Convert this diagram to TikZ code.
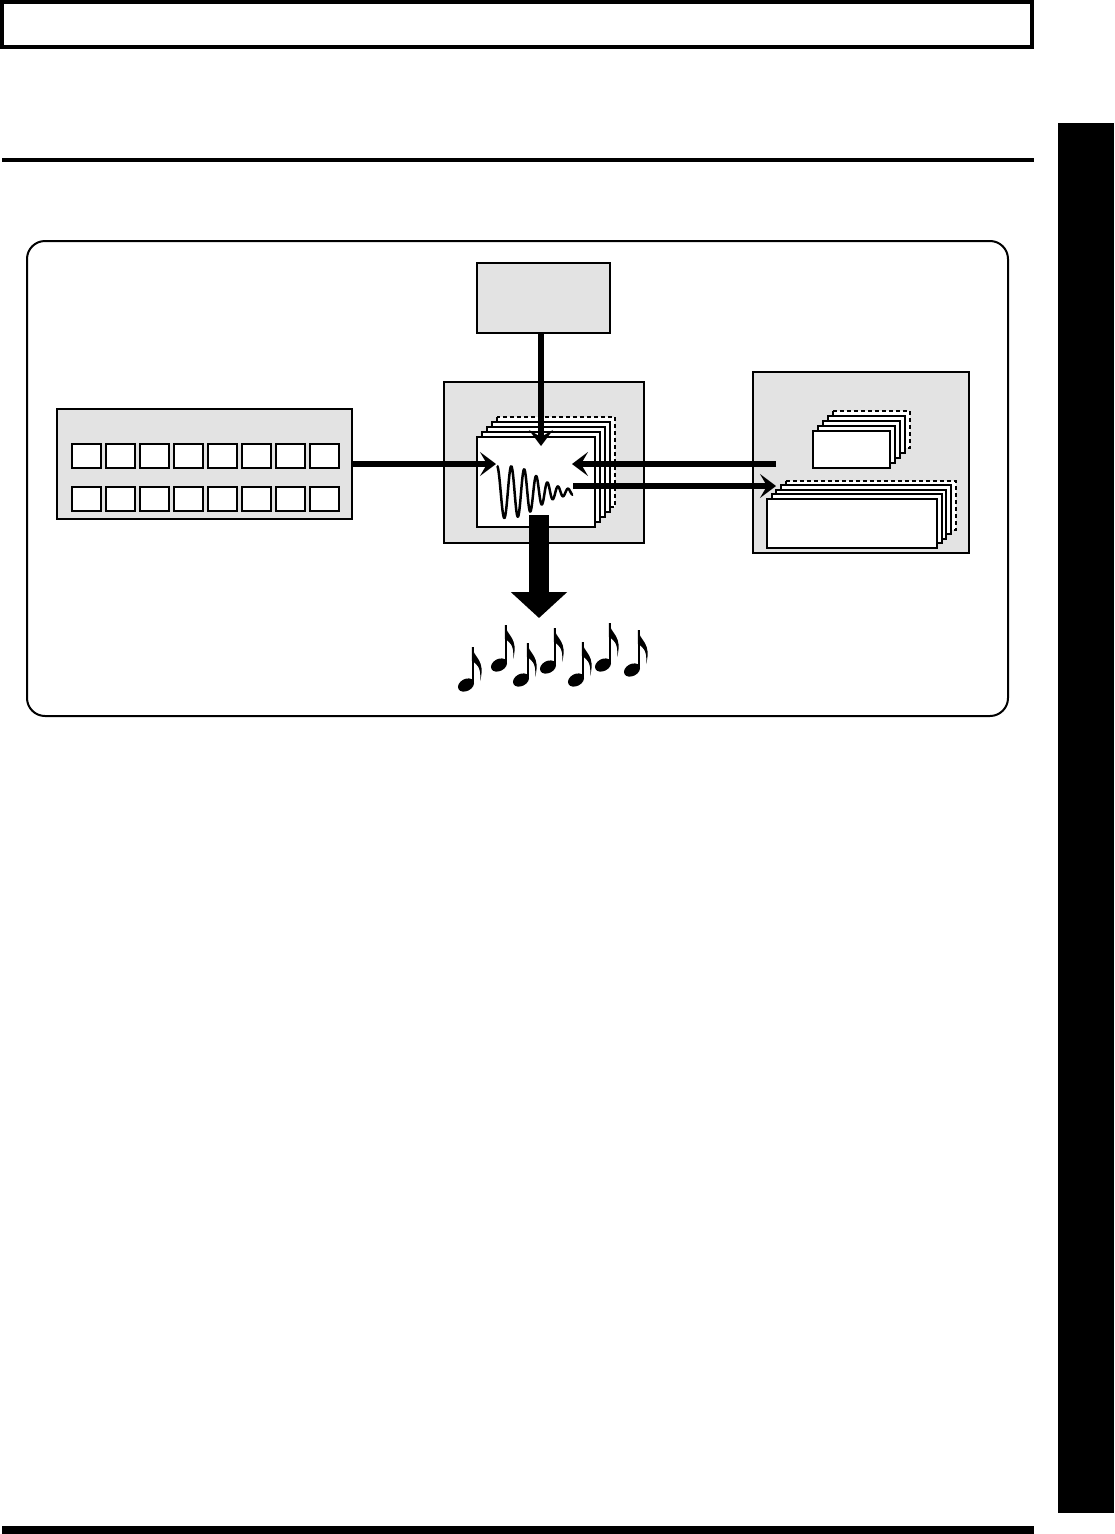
\documentclass[tikz,border=0pt]{standalone}
\usepackage{tikz}
\usetikzlibrary{arrows.meta, positioning, calc}
\definecolor{panelgray}{HTML}{E3E3E3}

\tikzset{
  panel/.style={draw, fill=panelgray, line width=2pt, inner sep=0pt},
  card/.style={draw, fill=white, line width=2pt, inner sep=0pt},
  backcard/.style={draw, fill=white, line width=2pt},
  ghostcard/.style={draw, fill=white, line width=2pt, dash pattern=on 4pt off 3pt},
  pad/.style={draw, fill=white, line width=2pt, inner sep=0pt, minimum width=29, minimum height=24},
  flow/.style={line width=5.5pt, -{Stealth[length=16pt, width=24pt, inset=7pt]}},
}

\begin{document}
\begin{tikzpicture}[x=1pt, y=-1pt]
  \useasboundingbox (0,0) rectangle (1114,1534);
  % --- page furniture: header box, rule, side tab, foot rule ---
  \draw[line width=4pt] (2,2) rectangle (1032,47);
  \draw[line width=3.5pt] (2,160) -- (1034,160);
  \fill (1058,123) rectangle (1114,1513);
  \fill (2,1526) rectangle (1034,1534);
  % --- rounded frame round the diagram ---
  \draw[line width=2pt, rounded corners=18pt] (27,241) rectangle (1008,716);

  % --- panels ---
  \node[panel, minimum width=133, minimum height=70]  (tone)  at (543.5,298) {};
  \node[panel, minimum width=200, minimum height=161] (mid)   at (544,462.5) {};
  \node[panel, minimum width=295, minimum height=110] (pads)  at (204.5,464) {};
  \node[panel, minimum width=216, minimum height=181] (store) at (861,462.5) {};

  % --- pads: two rows of eight ---
  \foreach \r/\py in {1/456, 2/499}
    \foreach \c in {1,...,8}
      \node[pad] (pad-\r-\c) at ({52.5+34*\c},\py) {};

  % --- stack of voice cards (front one carries the wave) ---
  \draw[ghostcard] (497,417) rectangle ++(118,90);
  \foreach \k in {3,2,1}
    \draw[backcard] (477+5*\k,437-5*\k) rectangle ++(118,90);
  \node[card, minimum width=118, minimum height=90] (voice) at (536,482) {};
  \draw[line width=2.5pt, line join=round]
    plot[domain=0:76, samples=300, smooth]
      ({497+\x}, {492-26/(1+(\x/44)^4)*cos(360*(\x/15+\x*\x/4000))});

  % --- small stack in the store ---
  \draw[ghostcard] (833,411) rectangle ++(77,37);
  \foreach \k in {3,2,1}
    \draw[backcard] (813+5*\k,431-5*\k) rectangle ++(77,37);
  \node[card, minimum width=77, minimum height=37] (bank) at (851.5,449.5) {};

  % --- wide stack in the store ---
  \draw[ghostcard] (786,481) rectangle ++(170,49);
  \foreach \k in {3,2,1}
    \draw[backcard] (767+4.7*\k,499-4.7*\k) rectangle ++(170,49);
  \node[card, minimum width=170, minimum height=49] (song) at (852,523.5) {};

  % --- connectors ---
  \coordinate (inTop)     at (541,446);
  \coordinate (inLeft)    at (496,464);
  \coordinate (inRight)   at (572,464);
  \coordinate (fromStore) at (776,464);
  \coordinate (outMid)    at (573,486);
  \coordinate (outEnd)    at (776,486);
  \coordinate (outDown)   at (539,515);
  \coordinate (notes)     at (539,618);
  \draw[flow] (tone.south -| inTop) -- (inTop);
  \draw[flow] (pads.east |- inLeft) -- (inLeft);
  \draw[flow] (fromStore) -- (inRight);
  \draw[flow] (outMid) -- (outEnd);
  \draw[line width=20pt, -{Triangle[length=26pt, width=55pt]}] (outDown) -- (notes);

  % --- eighth notes ---
  \foreach \hx/\hy/\st in {466/685/647, 499/665/625, 521/680/643, 548/667/628,
                           576/680/642, 603/665/623, 632/670/630}{
    \fill[rotate around={28:(\hx,\hy)}] (\hx,\hy) ellipse [x radius=8.5, y radius=6];
    \draw[line width=2.5pt] (\hx+7,\hy-2) -- (\hx+7,\st);
    \fill (\hx+5.8,\st) .. controls (\hx+8,\st+11) and (\hx+20,\st+13) .. (\hx+14,\st+34)
      .. controls (\hx+16,\st+19) and (\hx+9,\st+16) .. (\hx+5.8,\st+14) -- cycle;
  }
\end{tikzpicture}
\end{document}
